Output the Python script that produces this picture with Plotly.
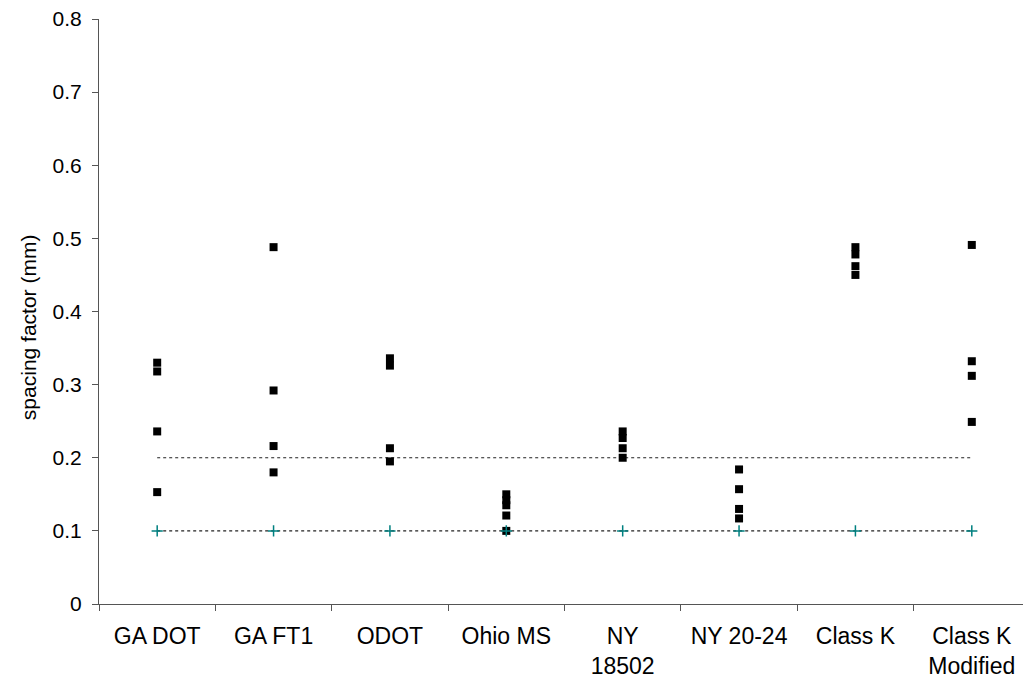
import plotly.graph_objects as go

categories = ["GA DOT", "GA FT1", "ODOT", "Ohio MS", "NY<br>18502", "NY 20-24", "Class K", "Class K<br>Modified"]

ga_dot = [0.330, 0.318, 0.236, 0.153]
ga_ft1 = [0.488, 0.292, 0.216, 0.180]
odot = [0.336, 0.326, 0.213, 0.195]
ohio_ms = [0.150, 0.142, 0.135, 0.121, 0.100]
ny_18502 = [0.236, 0.227, 0.213, 0.200]
ny_20_24 = [0.184, 0.157, 0.130, 0.117]
class_k = [0.488, 0.478, 0.462, 0.450]
class_k_mod = [0.491, 0.332, 0.312, 0.249]

lower_limit = [0.1] * 8
upper_limit = [0.2] * 8

y_ticks = [0, 0.1, 0.2, 0.3, 0.4, 0.5, 0.6, 0.7, 0.8]
y_tick_text = ["0", "0.1", "0.2", "0.3", "0.4", "0.5", "0.6", "0.7", "0.8"]
y_title = "spacing factor (mm)"

series = [ga_dot, ga_ft1, odot, ohio_ms, ny_18502, ny_20_24, class_k, class_k_mod]
xs, ys = [], []
for cat, vals in zip(categories, series):
    for v in vals:
        xs.append(cat)
        ys.append(v)

fig = go.Figure()
fig.add_trace(go.Scatter(
    x=categories, y=upper_limit, mode="lines",
    line=dict(color="#222222", width=1.2, dash="3px,3px"),
    showlegend=False, hoverinfo="skip"))
fig.add_trace(go.Scatter(
    x=categories, y=lower_limit, mode="lines",
    line=dict(color="#222222", width=1.2, dash="3px,3px"),
    showlegend=False, hoverinfo="skip"))
fig.add_trace(go.Scatter(
    x=xs, y=ys, mode="markers",
    marker=dict(symbol="square", size=8, color="black", line=dict(width=0)),
    showlegend=False))
fig.add_trace(go.Scatter(
    x=categories, y=lower_limit, mode="markers",
    marker=dict(symbol="cross-thin", size=8, color="#008080",
                line=dict(color="#008080", width=1.5)),
    showlegend=False))

fam = "Liberation Sans, Arial, sans-serif"
xfont = dict(family=fam, size=23, color="black")
yfont = dict(family=fam, size=21, color="black")

fig.update_layout(
    width=1023, height=686,
    margin=dict(l=99, r=0, t=19, b=82),
    paper_bgcolor="white", plot_bgcolor="white",
    font=dict(family=fam, color="black"),
    xaxis=dict(
        type="category", categoryorder="array", categoryarray=categories,
        range=[-0.5, 7.44],
        showline=True, linecolor="#555555", linewidth=1,
        ticks="outside", tickson="boundaries", ticklen=6, tickcolor="#555555",
        showgrid=False, zeroline=False,
        tickfont=xfont, ticklabelstandoff=11,
    ),
    yaxis=dict(
        range=[0, 0.8], tickvals=y_ticks, ticktext=y_tick_text,
        showline=True, linecolor="#555555", linewidth=1,
        ticks="outside", ticklen=6, tickcolor="#555555",
        showgrid=False, zeroline=False,
        tickfont=yfont, ticklabelstandoff=6,
    ),
    annotations=[dict(
        text=y_title, textangle=-90, showarrow=False,
        xref="paper", yref="paper", x=-0.077, y=0.473,
        xanchor="center", yanchor="middle",
        font=dict(family=fam, size=21, color="black"),
    )],
)

fig.write_html("out.html")
